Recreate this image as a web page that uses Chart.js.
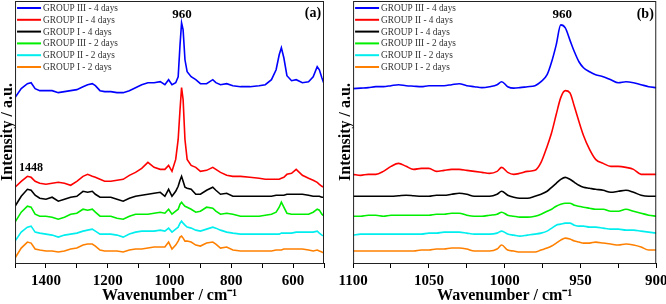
<!DOCTYPE html>
<html><head><meta charset="utf-8">
<script src="https://cdn.jsdelivr.net/npm/chart.js@4.4.1/dist/chart.umd.min.js"></script>
<style>
html,body{margin:0;padding:0;background:#fff;overflow:hidden;width:666px;height:304px;position:relative;}
#wa{position:absolute;left:0;top:0;width:333px;height:304px;}
#wb{position:absolute;left:333px;top:0;width:340px;height:304px;}
canvas{display:block;}
</style></head><body>
<div id="wa"><canvas id="ca" width="333" height="304"></canvas></div>
<div id="wb"><canvas id="cb" width="340" height="304"></canvas></div>
<script>
// ---------- categories / legend ----------
const seriesNames = ['GROUP III - 4 days','GROUP II - 4 days','GROUP I - 4 days','GROUP III - 2 days','GROUP II - 2 days','GROUP I - 2 days'];
const seriesColors = ['#0000ff','#ff0000','#000000','#00ee00','#00eeee','#ff8000'];

// ---------- panel (a): wavenumber grid (cm-1) ----------
const wavenumbersA = [1500,1480,1460,1448,1435,1420,1400,1380,1360,1340,1320,1300,1280,1265,1250,1240,1225,1210,1190,1170,1150,1130,1110,1090,1070,1050,1030,1015,1003,992,980,972,966,961,956,950,943,930,915,900,880,860,850,835,815,795,770,740,710,690,670,655,645,638,630,620,605,590,570,550,535,522,515,507,500];
// intensities (a.u., offset stacked as in the figure)
const group3Day4A = [166,175,180,181,175,173,173,173,171,172,173,174,177,179,180,178,173,172,172,171,171,173,176,179,181,181,182,179,184,179,181,187,219,241,234,204,192,187,184,180,180,184,181,179,180,178,177,177,178,179,184,194,209,216,206,188,183,184,181,182,187,197,194,186,180];
const group2Day4A = [76,82,87,86,82,80,79,80,81,80,78,82,87,89,87,86,84,82,82,83,84,88,91,95,101,96,94,94,98,92,104,124,154,176,164,124,104,98,96,92,93,96,94,91,88,87,87,86,85,84,84,84,84,85,86,89,90,94,88,85,83,81,79,77,76];
const group1Day4A = [57,67,74,73,68,65,64,66,62,64,66,67,72,71,72,69,66,66,66,64,62,65,67,68,69,70,71,67,74,67,72,77,83,87,82,76,75,74,69,69,73,76,73,69,70,67,67,67,67,67,67,68,68,68,68,69,69,69,69,68,67,67,67,66,66];
const group3Day2A = [41,51,57,56,49,47,47,46,44,46,49,50,54,53,54,51,47,47,47,45,44,47,49,49,49,50,51,50,54,49,52,54,59,61,59,57,56,54,51,52,56,55,52,49,50,49,47,47,47,48,49,51,56,61,56,50,49,49,49,49,51,54,53,49,47];
const group2Day2A = [22,31,36,37,31,30,29,28,26,28,29,30,32,33,34,32,29,29,29,28,26,29,31,32,32,32,33,32,35,31,34,36,40,42,40,38,36,35,33,32,34,36,35,33,31,30,29,29,29,29,29,29,29,30,30,30,30,31,31,31,31,32,30,28,27];
const group1Day2A = [5,15,21,20,14,13,12,12,11,12,14,15,18,19,19,17,13,12,12,12,11,13,14,14,15,16,16,16,21,14,18,22,26,27,25,22,22,21,18,17,20,21,19,15,16,13,12,12,12,12,12,13,13,13,14,14,14,14,14,13,12,13,12,11,10];
const tickLabelsA = [1400,1200,1000,800,600];

// ---------- panel (b): wavenumber grid (cm-1) ----------
const wavenumbersB = [1100,1095,1090,1085,1080,1075,1070,1065,1060,1055,1050,1045,1040,1035,1030,1025,1020,1015,1010,1005,1002,998,994,990,985,980,976,972,969,966,963,960,957,954,951,948,944,940,935,930,925,920,915,910,905,900];
const group3Day4B = [175,175.5,176,177,177,178,179,178,177.5,177,178,178,178,179,180,178,177,176,177,179,182,177,175.5,176,177,178,182,189,202,219,239,236,224,212,202,196,192,189,187,184,181,182,181,179,177,176];
const group2Day4B = [89,88,89,89,92,97,100,97,94,95,95,92,93,94,94,93,92,91,90,92,96,91,89,90,92,93,101,117,131,149,166,173,171,157,142,128,114,104,100,97,97,96,94,89,89,89];
const group1Day4B = [67,67,67,67,67,67,67.5,68,67.5,67,67,68,68,69,70,69,67,67,67,69,72,68,66,65,65,67,69,72,76,80,84,86,84,81,78,76,75,74,73,71,72,73,71,68,67,67];
const group3Day2B = [47,47,48,48,47,48,48,48,48,48,48,49,49,50,50,48,47,47,48,49,51,48,47,46,46,47,49,52,54,57,59,60,60,58,57,56,55,54,54,52,52,54,52,50,48,47];
const group2Day2B = [28,29,29,29,29,29,29,29,29,29,30,30,31,31,31,30,29,29,29,30,32,29,28,27,28,29,30,32,35,38,39,40,40,38,37,37,36,36,35,34,34,33,33,32,31,30];
const group1Day2B = [12,12,12,12,12,12,12,12,12,13,13,14,14,15,15,14,12,12,12,14,18,13,12,11,11,11,13,15,17,20,23,25,24,22,21,20,20,21,20,19,18,19,18,16,13,13];
const tickLabelsB = [1100,1050,1000,950,900];

const SERIF = '"Liberation Serif", "Times New Roman", serif';

const panelDecor = {
  id: 'panelDecor',
  afterDraw(chart, args, opts) {
    const ctx = chart.ctx, a = chart.chartArea;
    ctx.save();
    // legend
    ctx.font = '9.3px ' + SERIF;
    ctx.textBaseline = 'middle';
    ctx.textAlign = 'left';
    chart.data.datasets.forEach((ds, i) => {
      const y = a.top + 7 + i * 11.8;
      ctx.strokeStyle = ds.borderColor;
      ctx.lineWidth = 2;
      ctx.beginPath();
      ctx.moveTo(a.left + 2, y);
      ctx.lineTo(a.left + 26, y);
      ctx.stroke();
      ctx.fillStyle = '#333';
      ctx.fillText(ds.label, a.left + 28, y + 0.5);
    });
    // annotations
    ctx.fillStyle = '#000';
    ctx.textAlign = 'center';
    opts.notes.forEach(n => {
      ctx.font = 'bold ' + n.size + 'px ' + SERIF;
      const x = n.wn !== undefined ? chart.scales.x.getPixelForValue(n.wn) : a.right - n.fromRight;
      ctx.fillText(n.text, x, n.y);
    });
    // frame
    ctx.strokeStyle = '#222';
    ctx.lineWidth = 1;
    ctx.strokeRect(a.left + 0.5, a.top + 0.5, a.right - a.left - 1, a.bottom - a.top);
    ctx.restore();
  }
};

function buildChart(canvasId, cfg) {
  const datasets = cfg.series.map((vals, i) => ({
    label: seriesNames[i],
    data: cfg.wn.map((w, j) => ({x: w, y: vals[j]})),
    borderColor: seriesColors[i],
    borderWidth: 1.6,
    pointRadius: 0,
    fill: false,
    tension: cfg.tension,
    cubicInterpolationMode: cfg.tension ? 'monotone' : 'default'
  }));
  return new Chart(document.getElementById(canvasId), {
    type: 'line',
    data: {datasets},
    options: {
      responsive: false, animation: false, devicePixelRatio: 1,
      layout: {padding: {top: 1, left: 0, right: cfg.padRight, bottom: 0}},
      plugins: {legend: {display: false}, tooltip: {enabled: false}, panelDecor: {notes: cfg.notes}},
      scales: {
        x: {
          type: 'linear', reverse: true, min: cfg.min, max: cfg.max,
          ticks: {stepSize: cfg.step, autoSkip: false, maxRotation: 0, padding: 5.5, color: '#000',
            font: {family: SERIF, size: 15, weight: 'bold', lineHeight: 1},
            callback: v => cfg.labels.includes(v) ? String(v) : ''},
          grid: {display: true, drawOnChartArea: false, drawTicks: true, tickLength: 5, color: '#000', lineWidth: 1},
          border: {display: false},
          title: {display: true, text: 'Wavenumber / cm\u207B\u00B9', color: '#000',
            font: {family: SERIF, size: 16, weight: 'bold', lineHeight: 0.25}, padding: {top: 0, bottom: 6}}
        },
        y: {
          min: 0, max: 263,
          ticks: {display: false},
          grid: {display: false, drawTicks: false},
          border: {display: false},
          title: {display: true, text: 'Intensity / a.u.', color: '#000',
            font: {family: SERIF, size: 16, weight: 'bold', lineHeight: 0.94}, padding: {top: 0, bottom: 0}}
        }
      }
    },
    plugins: [panelDecor]
  });
}

buildChart('ca', {
  wn: wavenumbersA,
  series: [group3Day4A, group2Day4A, group1Day4A, group3Day2A, group2Day2A, group1Day2A],
  min: 500, max: 1500, step: 100, labels: tickLabelsA, padRight: 9, tension: 0,
  notes: [{text: '960', wn: 960, y: 15, size: 13}, {text: '1448', wn: 1448, y: 168, size: 12}, {text: '(a)', fromRight: 11, y: 13, size: 14}]
});
buildChart('cb', {
  wn: wavenumbersB,
  series: [group3Day4B, group2Day4B, group1Day4B, group3Day2B, group2Day2B, group1Day2B],
  min: 900, max: 1100, step: 25, labels: tickLabelsB, padRight: 16, tension: 0.3,
  notes: [{text: '960', wn: 962, y: 15, size: 13}, {text: '(b)', fromRight: 11, y: 14, size: 14}]
});
</script>
</body></html>
